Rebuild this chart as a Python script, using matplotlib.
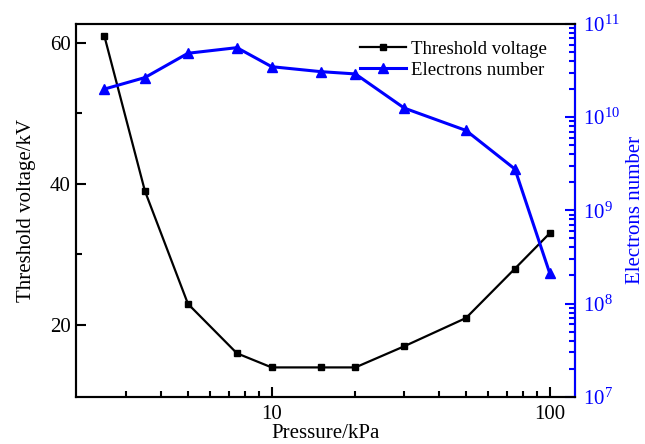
import matplotlib
matplotlib.use('Agg')
import matplotlib.pyplot as plt
from matplotlib.ticker import LogLocator, NullFormatter, FixedLocator

plt.rcParams['font.family'] = ['Liberation Serif', 'DejaVu Serif']
plt.rcParams['mathtext.fontset'] = 'custom'
plt.rcParams['mathtext.rm'] = 'Liberation Serif'
plt.rcParams['mathtext.it'] = 'Liberation Serif:italic'

pressure = [2.5, 3.5, 5, 7.5, 10, 15, 20, 30, 50, 75, 100]
threshold_kv = [61, 39, 23, 16, 14, 14, 14, 17, 21, 28, 33]
electrons = [2.0e10, 2.66e10, 4.85e10, 5.57e10, 3.48e10, 3.08e10, 2.91e10,
             1.25e10, 7.2e9, 2.77e9, 2.12e8]
x_ticks = [10, 100]
x_ticklabels = ['10', '100']
x_minor = [3, 4, 5, 6, 7, 8, 9, 20, 30, 40, 50, 60, 70, 80, 90]
y_ticks = [20, 40, 60]
y_minor = [30, 50]

fig = plt.figure(figsize=(6.45, 4.44), dpi=100)
ax = fig.add_axes([0.118, 0.1065, 0.773, 0.8395])
ax2 = ax.twinx()

l1, = ax.plot(pressure, threshold_kv, color='black', lw=1.6, marker='s', ms=5,
              label='Threshold voltage')
l2, = ax2.plot(pressure, electrons, color='blue', lw=2.2, marker='^', ms=7,
               label='Electrons number')

ax.set_xscale('log')
ax.set_xlim(1.98, 123)
ax.set_ylim(9.85, 62.65)
ax.xaxis.set_major_locator(FixedLocator(x_ticks))
ax.set_xticklabels(x_ticklabels)
ax.xaxis.set_minor_locator(FixedLocator(x_minor))
ax.xaxis.set_minor_formatter(NullFormatter())
ax.set_yticks(y_ticks)
ax.yaxis.set_minor_locator(FixedLocator(y_minor))

ax2.set_yscale('log')
ax2.set_ylim(1e7, 1e11)
ax2.yaxis.set_major_locator(LogLocator(base=10))
ax2.yaxis.set_minor_locator(LogLocator(base=10, subs=range(2, 10)))
ax2.yaxis.set_minor_formatter(NullFormatter())

for a in (ax, ax2):
    for s in a.spines.values():
        s.set_linewidth(1.5)
ax2.spines['right'].set_color('blue')

ax.tick_params(which='major', direction='in', length=7, width=1.5, labelsize=15, pad=4)
ax.tick_params(which='minor', direction='in', length=4, width=1.5)
ax.tick_params(axis='x', pad=6)
ax2.tick_params(which='major', direction='in', length=7, width=1.5, labelsize=15,
                colors='blue', pad=6)
ax2.tick_params(which='minor', direction='in', length=4, width=1.5, colors='blue')

ax.set_xlabel('Pressure/kPa', fontsize=15, labelpad=0)
ax.set_ylabel('Threshold voltage/kV', fontsize=15, labelpad=10)
ax2.set_ylabel('Electrons number', fontsize=15, color='blue', labelpad=4)

ax.legend(handles=[l1, l2], loc='upper right', bbox_to_anchor=(0.97, 0.99),
          frameon=False, fontsize=13.5, handlelength=2.45, handletextpad=0.25,
          labelspacing=0.2, borderaxespad=0.3)

fig.savefig('out.png', dpi=100)
